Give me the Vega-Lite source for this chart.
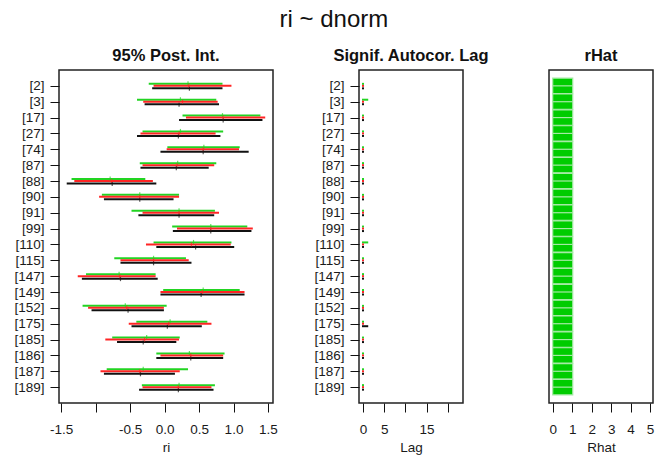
{
  "$schema": "https://vega.github.io/schema/vega-lite/v6.json",
  "padding": {"left": 13, "top": 7, "right": 0, "bottom": 0},
  "title": {"text": "ri ~ dnorm", "fontSize": 24, "fontWeight": "normal", "anchor": "middle", "offset": 15, "color": "#111"},
  "config": {
    "font": "Liberation Sans",
    "view": {"stroke": "#222", "strokeWidth": 1.5},
    "concat": {"spacing": 86},
    "axis": {"grid": false, "domain": false, "tickColor": "#111", "tickSize": 9, "tickWidth": 1, "labelFontSize": 13.5, "labelColor": "#1a1a1a", "titleFontSize": 13.5, "titleFontWeight": "normal", "titleColor": "#1a1a1a", "labelOverlap": false, "labelFlush": false, "labelBound": false},
    "axisX": {"labelPadding": 10, "titlePadding": 5},
    "axisY": {"labelPadding": 6, "title": null},
    "title": {"fontSize": 16.5, "fontWeight": "bold", "color": "#111", "offset": 6}
  },
  "bounds": "flush",
  "datasets": {
    "intervals": [
      {"param": "[2]", "chain": "chain 1", "lo": -0.23, "hi": 0.84, "med": 0.34},
      {"param": "[2]", "chain": "chain 2", "lo": -0.16, "hi": 0.97, "med": 0.35},
      {"param": "[2]", "chain": "chain 3", "lo": -0.18, "hi": 0.84, "med": 0.36},
      {"param": "[3]", "chain": "chain 1", "lo": -0.40, "hi": 0.75, "med": 0.23},
      {"param": "[3]", "chain": "chain 2", "lo": -0.31, "hi": 0.77, "med": 0.26},
      {"param": "[3]", "chain": "chain 3", "lo": -0.29, "hi": 0.79, "med": 0.21},
      {"param": "[17]", "chain": "chain 1", "lo": 0.26, "hi": 1.39, "med": 0.84},
      {"param": "[17]", "chain": "chain 2", "lo": 0.31, "hi": 1.46, "med": 0.85},
      {"param": "[17]", "chain": "chain 3", "lo": 0.21, "hi": 1.42, "med": 0.85},
      {"param": "[27]", "chain": "chain 1", "lo": -0.32, "hi": 0.85, "med": 0.23},
      {"param": "[27]", "chain": "chain 2", "lo": -0.35, "hi": 0.74, "med": 0.21},
      {"param": "[27]", "chain": "chain 3", "lo": -0.40, "hi": 0.81, "med": 0.20},
      {"param": "[74]", "chain": "chain 1", "lo": 0.04, "hi": 1.09, "med": 0.57},
      {"param": "[74]", "chain": "chain 2", "lo": 0.03, "hi": 1.08, "med": 0.56},
      {"param": "[74]", "chain": "chain 3", "lo": -0.06, "hi": 1.22, "med": 0.56},
      {"param": "[87]", "chain": "chain 1", "lo": -0.36, "hi": 0.75, "med": 0.19},
      {"param": "[87]", "chain": "chain 2", "lo": -0.32, "hi": 0.72, "med": 0.18},
      {"param": "[87]", "chain": "chain 3", "lo": -0.35, "hi": 0.64, "med": 0.17},
      {"param": "[88]", "chain": "chain 1", "lo": -1.35, "hi": -0.28, "med": -0.79},
      {"param": "[88]", "chain": "chain 2", "lo": -1.31, "hi": -0.17, "med": -0.77},
      {"param": "[88]", "chain": "chain 3", "lo": -1.42, "hi": -0.12, "med": -0.76},
      {"param": "[90]", "chain": "chain 1", "lo": -0.91, "hi": 0.21, "med": -0.36},
      {"param": "[90]", "chain": "chain 2", "lo": -0.95, "hi": 0.21, "med": -0.36},
      {"param": "[90]", "chain": "chain 3", "lo": -0.88, "hi": 0.13, "med": -0.36},
      {"param": "[91]", "chain": "chain 1", "lo": -0.48, "hi": 0.73, "med": 0.21},
      {"param": "[91]", "chain": "chain 2", "lo": -0.32, "hi": 0.79, "med": 0.21},
      {"param": "[91]", "chain": "chain 3", "lo": -0.38, "hi": 0.72, "med": 0.21},
      {"param": "[99]", "chain": "chain 1", "lo": 0.11, "hi": 1.20, "med": 0.67},
      {"param": "[99]", "chain": "chain 2", "lo": 0.18, "hi": 1.28, "med": 0.67},
      {"param": "[99]", "chain": "chain 3", "lo": 0.12, "hi": 1.26, "med": 0.67},
      {"param": "[110]", "chain": "chain 1", "lo": -0.16, "hi": 0.97, "med": 0.42},
      {"param": "[110]", "chain": "chain 2", "lo": -0.27, "hi": 0.96, "med": 0.39},
      {"param": "[110]", "chain": "chain 3", "lo": -0.12, "hi": 1.01, "med": 0.45},
      {"param": "[115]", "chain": "chain 1", "lo": -0.73, "hi": 0.31, "med": -0.16},
      {"param": "[115]", "chain": "chain 2", "lo": -0.64, "hi": 0.35, "med": -0.16},
      {"param": "[115]", "chain": "chain 3", "lo": -0.64, "hi": 0.39, "med": -0.16},
      {"param": "[147]", "chain": "chain 1", "lo": -1.14, "hi": -0.13, "med": -0.66},
      {"param": "[147]", "chain": "chain 2", "lo": -1.26, "hi": -0.13, "med": -0.65},
      {"param": "[147]", "chain": "chain 3", "lo": -1.20, "hi": -0.10, "med": -0.64},
      {"param": "[149]", "chain": "chain 1", "lo": -0.02, "hi": 1.09, "med": 0.56},
      {"param": "[149]", "chain": "chain 2", "lo": -0.06, "hi": 1.16, "med": 0.55},
      {"param": "[149]", "chain": "chain 3", "lo": -0.06, "hi": 1.16, "med": 0.53},
      {"param": "[152]", "chain": "chain 1", "lo": -1.19, "hi": 0.03, "med": -0.57},
      {"param": "[152]", "chain": "chain 2", "lo": -1.11, "hi": -0.01, "med": -0.55},
      {"param": "[152]", "chain": "chain 3", "lo": -1.06, "hi": -0.01, "med": -0.53},
      {"param": "[175]", "chain": "chain 1", "lo": -0.41, "hi": 0.62, "med": 0.08},
      {"param": "[175]", "chain": "chain 2", "lo": -0.52, "hi": 0.68, "med": 0.06},
      {"param": "[175]", "chain": "chain 3", "lo": -0.48, "hi": 0.54, "med": 0.04},
      {"param": "[185]", "chain": "chain 1", "lo": -0.76, "hi": 0.22, "med": -0.26},
      {"param": "[185]", "chain": "chain 2", "lo": -0.86, "hi": 0.21, "med": -0.29},
      {"param": "[185]", "chain": "chain 3", "lo": -0.69, "hi": 0.17, "med": -0.31},
      {"param": "[186]", "chain": "chain 1", "lo": -0.12, "hi": 0.87, "med": 0.36},
      {"param": "[186]", "chain": "chain 2", "lo": -0.06, "hi": 0.85, "med": 0.38},
      {"param": "[186]", "chain": "chain 3", "lo": -0.12, "hi": 0.85, "med": 0.38},
      {"param": "[187]", "chain": "chain 1", "lo": -0.84, "hi": 0.34, "med": -0.31},
      {"param": "[187]", "chain": "chain 2", "lo": -0.93, "hi": 0.22, "med": -0.36},
      {"param": "[187]", "chain": "chain 3", "lo": -0.88, "hi": 0.15, "med": -0.35},
      {"param": "[189]", "chain": "chain 1", "lo": -0.33, "hi": 0.73, "med": 0.21},
      {"param": "[189]", "chain": "chain 2", "lo": -0.32, "hi": 0.68, "med": 0.20},
      {"param": "[189]", "chain": "chain 3", "lo": -0.37, "hi": 0.71, "med": 0.20}
    ],
    "lags": [
      {"param": "[2]", "chain": "chain 1", "lag": 0}, {"param": "[2]", "chain": "chain 2", "lag": 0}, {"param": "[2]", "chain": "chain 3", "lag": 0},
      {"param": "[3]", "chain": "chain 1", "lag": 1}, {"param": "[3]", "chain": "chain 2", "lag": 0}, {"param": "[3]", "chain": "chain 3", "lag": 0},
      {"param": "[17]", "chain": "chain 1", "lag": 0}, {"param": "[17]", "chain": "chain 2", "lag": 0}, {"param": "[17]", "chain": "chain 3", "lag": 0},
      {"param": "[27]", "chain": "chain 1", "lag": 0}, {"param": "[27]", "chain": "chain 2", "lag": 0}, {"param": "[27]", "chain": "chain 3", "lag": 0},
      {"param": "[74]", "chain": "chain 1", "lag": 0}, {"param": "[74]", "chain": "chain 2", "lag": 0}, {"param": "[74]", "chain": "chain 3", "lag": 0},
      {"param": "[87]", "chain": "chain 1", "lag": 0}, {"param": "[87]", "chain": "chain 2", "lag": 0}, {"param": "[87]", "chain": "chain 3", "lag": 0},
      {"param": "[88]", "chain": "chain 1", "lag": 0}, {"param": "[88]", "chain": "chain 2", "lag": 0}, {"param": "[88]", "chain": "chain 3", "lag": 0},
      {"param": "[90]", "chain": "chain 1", "lag": 0}, {"param": "[90]", "chain": "chain 2", "lag": 0}, {"param": "[90]", "chain": "chain 3", "lag": 0},
      {"param": "[91]", "chain": "chain 1", "lag": 0}, {"param": "[91]", "chain": "chain 2", "lag": 0}, {"param": "[91]", "chain": "chain 3", "lag": 0},
      {"param": "[99]", "chain": "chain 1", "lag": 0}, {"param": "[99]", "chain": "chain 2", "lag": 0}, {"param": "[99]", "chain": "chain 3", "lag": 0},
      {"param": "[110]", "chain": "chain 1", "lag": 1}, {"param": "[110]", "chain": "chain 2", "lag": 0}, {"param": "[110]", "chain": "chain 3", "lag": 0},
      {"param": "[115]", "chain": "chain 1", "lag": 0}, {"param": "[115]", "chain": "chain 2", "lag": 0}, {"param": "[115]", "chain": "chain 3", "lag": 0},
      {"param": "[147]", "chain": "chain 1", "lag": 0}, {"param": "[147]", "chain": "chain 2", "lag": 0}, {"param": "[147]", "chain": "chain 3", "lag": 0},
      {"param": "[149]", "chain": "chain 1", "lag": 0}, {"param": "[149]", "chain": "chain 2", "lag": 0}, {"param": "[149]", "chain": "chain 3", "lag": 0},
      {"param": "[152]", "chain": "chain 1", "lag": 0}, {"param": "[152]", "chain": "chain 2", "lag": 0}, {"param": "[152]", "chain": "chain 3", "lag": 0},
      {"param": "[175]", "chain": "chain 1", "lag": 0}, {"param": "[175]", "chain": "chain 2", "lag": 0}, {"param": "[175]", "chain": "chain 3", "lag": 1},
      {"param": "[185]", "chain": "chain 1", "lag": 0}, {"param": "[185]", "chain": "chain 2", "lag": 0}, {"param": "[185]", "chain": "chain 3", "lag": 0},
      {"param": "[186]", "chain": "chain 1", "lag": 0}, {"param": "[186]", "chain": "chain 2", "lag": 0}, {"param": "[186]", "chain": "chain 3", "lag": 0},
      {"param": "[187]", "chain": "chain 1", "lag": 0}, {"param": "[187]", "chain": "chain 2", "lag": 0}, {"param": "[187]", "chain": "chain 3", "lag": 0},
      {"param": "[189]", "chain": "chain 1", "lag": 0}, {"param": "[189]", "chain": "chain 2", "lag": 0}, {"param": "[189]", "chain": "chain 3", "lag": 0}
    ],
    "rhat": [
      {"param": "[2]", "rhat": 1.03}, {"param": "[3]", "rhat": 1.03}, {"param": "[17]", "rhat": 1.03},
      {"param": "[27]", "rhat": 1.03}, {"param": "[74]", "rhat": 1.03}, {"param": "[87]", "rhat": 1.03},
      {"param": "[88]", "rhat": 1.03}, {"param": "[90]", "rhat": 1.03}, {"param": "[91]", "rhat": 1.03},
      {"param": "[99]", "rhat": 1.03}, {"param": "[110]", "rhat": 1.03}, {"param": "[115]", "rhat": 1.03},
      {"param": "[147]", "rhat": 1.03}, {"param": "[149]", "rhat": 1.03}, {"param": "[152]", "rhat": 1.03},
      {"param": "[175]", "rhat": 1.03}, {"param": "[185]", "rhat": 1.03}, {"param": "[186]", "rhat": 1.03},
      {"param": "[187]", "rhat": 1.03}, {"param": "[189]", "rhat": 1.03}
    ]
  },
  "hconcat": [
    {
      "title": "95% Post. Int.",
      "width": 214,
      "height": 333,
      "data": {"name": "intervals"},
      "encoding": {
        "y": {"field": "param", "type": "ordinal", "sort": null, "scale": {"type": "point", "padding": 1.17}},
        "color": {"field": "chain", "type": "nominal", "legend": null, "scale": {"domain": ["chain 1", "chain 2", "chain 3"], "range": ["#22d422", "#ff2424", "#111111"]}},
        "x": {"field": "lo", "type": "quantitative", "title": "ri", "scale": {"domain": [-1.532, 1.573], "nice": false, "zero": false},
          "axis": {"values": [-1.5, -1, -0.5, 0, 0.5, 1, 1.5], "format": ".1f", "labelOverlap": false, "labelExpr": "datum.value == -1 ? '' : replace(datum.label, '\u2212', '-')"}}
      },
      "layer": [
        {
          "transform": [{"filter": "datum.chain == 'chain 1'"}],
          "mark": {"type": "rule", "strokeWidth": 2, "yOffset": -2},
          "encoding": {"x2": {"field": "hi"}}
        },
        {
          "transform": [{"filter": "datum.chain == 'chain 2'"}],
          "mark": {"type": "rule", "strokeWidth": 2, "yOffset": 0},
          "encoding": {"x2": {"field": "hi"}}
        },
        {
          "transform": [{"filter": "datum.chain == 'chain 3'"}],
          "mark": {"type": "rule", "strokeWidth": 2, "yOffset": 2.5},
          "encoding": {"x2": {"field": "hi"}}
        },
        {
          "transform": [{"filter": "datum.chain == 'chain 1'"}],
          "mark": {"type": "tick", "size": 4, "thickness": 1.2, "yOffset": -2.5},
          "encoding": {"x": {"field": "med", "type": "quantitative"}}
        },
        {
          "transform": [{"filter": "datum.chain == 'chain 2'"}],
          "mark": {"type": "tick", "size": 4, "thickness": 1.2, "yOffset": 0},
          "encoding": {"x": {"field": "med", "type": "quantitative"}}
        },
        {
          "transform": [{"filter": "datum.chain == 'chain 3'"}],
          "mark": {"type": "tick", "size": 4, "thickness": 1.2, "yOffset": 3},
          "encoding": {"x": {"field": "med", "type": "quantitative"}}
        }
      ]
    },
    {
      "title": "Signif. Autocor. Lag",
      "width": 104,
      "height": 333,
      "data": {"name": "lags"},
      "encoding": {
        "y": {"field": "param", "type": "ordinal", "sort": null, "scale": {"type": "point", "padding": 1.17}},
        "color": {"field": "chain", "type": "nominal", "legend": null, "scale": {"domain": ["chain 1", "chain 2", "chain 3"], "range": ["#22d422", "#ff2424", "#111111"]}},
        "x": {"field": "lag", "type": "quantitative", "title": "Lag", "scale": {"domain": [-0.94, 23.6], "nice": false, "zero": false},
          "axis": {"values": [0, 5, 10, 15, 20], "labelExpr": "datum.value == 10 || datum.value == 20 ? '' : datum.label"}},
        "x2": {"datum": 0}
      },
      "layer": [
        {"transform": [{"filter": "datum.chain == 'chain 1'"}], "mark": {"type": "rule", "strokeWidth": 2, "strokeCap": "square", "yOffset": -2}},
        {"transform": [{"filter": "datum.chain == 'chain 2'"}], "mark": {"type": "rule", "strokeWidth": 2, "strokeCap": "square", "yOffset": 0}},
        {"transform": [{"filter": "datum.chain == 'chain 3'"}], "mark": {"type": "rule", "strokeWidth": 2, "strokeCap": "square", "yOffset": 2.5}}
      ]
    },
    {
      "title": "rHat",
      "width": 104,
      "height": 333,
      "data": {"name": "rhat"},
      "encoding": {
        "y": {"field": "param", "type": "ordinal", "sort": null, "scale": {"type": "point", "padding": 1.17}, "axis": null},
        "x": {"field": "rhat", "type": "quantitative", "title": "Rhat", "scale": {"domain": [-0.19, 5.15], "nice": false, "zero": false},
          "axis": {"values": [0, 1, 2, 3, 4, 5]}}
      },
      "layer": [
        {
          "mark": {"type": "bar", "height": 15.4, "color": "#00cc00", "stroke": "#a6eaa6", "strokeWidth": 1.2}
        },
        {
          "mark": {"type": "rule", "color": "#a6eaa6", "strokeWidth": 1.2},
          "encoding": {"x2": {"datum": 0}}
        }
      ]
    }
  ]
}
